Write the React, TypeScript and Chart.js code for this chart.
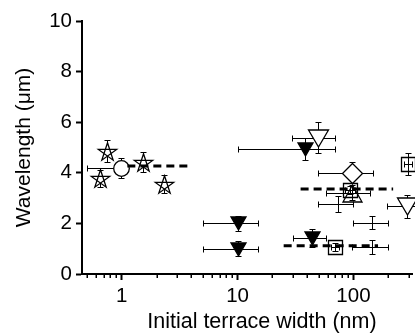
import React, { useEffect, useRef } from 'react';
import { Chart, registerables } from 'chart.js';

Chart.register(...registerables);

const FONT = "'Liberation Sans', Arial, Helvetica, sans-serif";

// Axis ticks
const xMajorTicks = [1, 10, 100];
const xMinorTicks = [0.5, 0.6, 0.7, 0.8, 0.9, 2, 3, 4, 5, 6, 7, 8, 9, 20, 30, 40, 50, 60, 70, 80, 90, 200, 300];
const yTickStep = 2;

// Open stars
const starX = [0.75, 0.65, 1.53, 2.3];
const starY = [4.86, 3.78, 4.44, 3.55];
const starYErr = [0.45, 0.35, 0.4, 0.35];

// Open circle
const circleX = [0.99];
const circleY = [4.2];
const circleXLo = [0.5];
const circleXHi = [1.1];
const circleYErr = [0.4];

// Filled down triangles
const fTriX = [10, 10, 44, 38];
const fTriY = [2.0, 1.0, 1.42, 4.95];
const fTriXLo = [5, 5, 30, 10];
const fTriXHi = [15, 15, 58, 69];
const fTriYErr = [0.3, 0.3, 0.35, 0.43];

// Open down triangles
const oTriX = [49.5, 292];
const oTriY = [5.39, 2.67];
const oTriXLo = [29.5, 195];
const oTriXHi = [69, 450];
const oTriYErr = [0.6, 0.45];

// Open up triangle
const upTriX = [98];
const upTriY = [3.22];
const upTriXLo = [58];
const upTriXHi = [140];
const upTriYErr = [0.3];

// Open diamond
const diaX = [98];
const diaY = [4.01];
const diaXLo = [49.5];
const diaXHi = [148];
const diaYErr = [0.4];

// Open squares
const sqX = [94, 69, 296];
const sqY = [3.32, 1.06, 4.35];
const sqXLo = [85, 64, 273];
const sqXHi = [104, 74.5, 321];
const sqYErr = [0.15, 0.16, 0.42];

// Error-bar-only points (crosses)
const crossX = [74, 146, 146];
const crossY = [2.77, 2.03, 1.06];
const crossXLo = [49.5, 99, 98];
const crossXHi = [100, 199, 199];
const crossYErr = [0.3, 0.26, 0.27];

// Dashed mean lines
const dash1X = [1.12, 3.8];
const dash1Y = [4.27, 4.27];
const dash2X = [35, 220];
const dash2Y = [3.36, 3.36];
const dash3X = [25, 163];
const dash3Y = [1.12, 1.12];

function drawShape(g: CanvasRenderingContext2D, kind: string, cx: number, cy: number) {
  g.save();
  g.lineWidth = 1.3;
  g.strokeStyle = '#000';
  g.lineJoin = 'miter';
  g.beginPath();
  let fill: string | null = '#fff';
  if (kind === 'star') {
    const R = 9.6;
    const c0 = cy + 0.9;
    for (let k = 0; k < 5; k++) {
      const idx = (k * 2) % 5;
      const a = -Math.PI / 2 + idx * 2 * Math.PI / 5;
      const px = cx + R * Math.cos(a), py = c0 + R * Math.sin(a);
      if (k === 0) g.moveTo(px, py); else g.lineTo(px, py);
    }
    g.closePath();
  } else if (kind === 'circle') {
    g.arc(cx, cy, 7.8, 0, Math.PI * 2);
  } else if (kind === 'ftri') {
    g.moveTo(cx - 7.5, cy - 6.5);
    g.lineTo(cx + 7.5, cy - 6.5);
    g.lineTo(cx, cy + 6.5);
    g.closePath();
    fill = '#000';
  } else if (kind === 'otri') {
    g.moveTo(cx - 10, cy - 8.5);
    g.lineTo(cx + 10, cy - 8.5);
    g.lineTo(cx, cy + 8.5);
    g.closePath();
  } else if (kind === 'utri') {
    g.moveTo(cx - 9.5, cy + 8.5);
    g.lineTo(cx + 9.5, cy + 8.5);
    g.lineTo(cx, cy - 8.5);
    g.closePath();
    fill = null;
  } else if (kind === 'diamond') {
    g.moveTo(cx, cy - 10);
    g.lineTo(cx + 10, cy);
    g.lineTo(cx, cy + 10);
    g.lineTo(cx - 10, cy);
    g.closePath();
  } else if (kind === 'square') {
    g.rect(cx - 7, cy - 7, 14, 14);
    fill = null;
  }
  if (fill) {
    g.fillStyle = fill;
    g.fill();
  }
  g.stroke();
  g.restore();
}

function pts(xs: number[], ys: number[]) {
  return xs.map((x, i) => ({ x, y: ys[i] }));
}

function errs(xLo: number[] | null, xHi: number[] | null, yErr: number[]) {
  return yErr.map((e, i) => ({ xLo: xLo ? xLo[i] : null, xHi: xHi ? xHi[i] : null, yErr: e }));
}

// Draws error bars, then the markers at the elements' positions (dashed lines drawn on top by the datasets)
const markerPlugin = {
  id: 'errorBarsAndMarkers',
  beforeDatasetsDraw(chart: any) {
    const { ctx } = chart;
    const x = chart.scales.x, y = chart.scales.y;
    ctx.save();
    ctx.strokeStyle = '#000';
    ctx.lineWidth = 1;
    const cap = 3;
    chart.data.datasets.forEach((ds: any) => {
      if (!ds.errors) return;
      ds.data.forEach((p: any, i: number) => {
        const e = ds.errors[i];
        const px = Math.round(x.getPixelForValue(p.x)) + 0.5;
        const py = Math.round(y.getPixelForValue(p.y)) + 0.5;
        ctx.beginPath();
        if (e.xLo != null && e.xHi != null) {
          const l = Math.round(x.getPixelForValue(e.xLo)) + 0.5, r = Math.round(x.getPixelForValue(e.xHi)) + 0.5;
          ctx.moveTo(l, py); ctx.lineTo(r, py);
          ctx.moveTo(l, py - cap); ctx.lineTo(l, py + cap);
          ctx.moveTo(r, py - cap); ctx.lineTo(r, py + cap);
        }
        if (e.yErr) {
          const t = Math.round(y.getPixelForValue(p.y + e.yErr)) + 0.5, b = Math.round(y.getPixelForValue(p.y - e.yErr)) + 0.5;
          ctx.moveTo(px, t); ctx.lineTo(px, b);
          ctx.moveTo(px - cap, t); ctx.lineTo(px + cap, t);
          ctx.moveTo(px - cap, b); ctx.lineTo(px + cap, b);
        }
        ctx.stroke();
      });
    });
    ctx.restore();
    chart.data.datasets.forEach((ds: any, di: number) => {
      if (!ds.marker) return;
      const meta = chart.getDatasetMeta(di);
      meta.data.forEach((el: any) => {
        drawShape(ctx, ds.marker, Math.round(el.x) + 0.5, Math.round(el.y) + 0.5);
      });
    });
  },
  afterDraw(chart: any) {
    const { ctx, chartArea } = chart;
    const x = chart.scales.x;
    ctx.save();
    ctx.strokeStyle = '#000';
    ctx.lineWidth = 1.5;
    ctx.beginPath();
    xMinorTicks.forEach((v) => {
      const px = Math.round(x.getPixelForValue(v)) + 0.25;
      ctx.moveTo(px, chartArea.bottom);
      ctx.lineTo(px, chartArea.bottom + 4);
    });
    ctx.stroke();
    ctx.restore();
  },
};

export default function App() {
  const ref = useRef<HTMLCanvasElement>(null);
  useEffect(() => {
    if (!ref.current) return;
    const dashed = (xs: number[], ys: number[]) => ({
      type: 'line' as const,
      data: pts(xs, ys),
      borderColor: '#000',
      borderWidth: 3,
      borderDash: [8, 5],
      pointRadius: 0,
      fill: false,
      clip: false as any,
    });
    const scatter = (xs: number[], ys: number[], kind: string | null, e: any[]) => ({
      type: 'scatter' as const,
      data: pts(xs, ys),
      errors: e,
      marker: kind,
      pointRadius: 0,
      pointHitRadius: 8,
      backgroundColor: '#fff',
      borderColor: '#000',
      clip: false as any,
    });
    const chart = new Chart(ref.current, {
      type: 'scatter',
      data: {
        datasets: [
          dashed(dash1X, dash1Y),
          dashed(dash2X, dash2Y),
          dashed(dash3X, dash3Y),
          scatter(sqX, sqY, 'square', errs(sqXLo, sqXHi, sqYErr)),
          scatter(upTriX, upTriY, 'utri', errs(upTriXLo, upTriXHi, upTriYErr)),
          scatter(diaX, diaY, 'diamond', errs(diaXLo, diaXHi, diaYErr)),
          scatter(fTriX, fTriY, 'ftri', errs(fTriXLo, fTriXHi, fTriYErr)),
          scatter(oTriX, oTriY, 'otri', errs(oTriXLo, oTriXHi, oTriYErr)),
          scatter(starX, starY, 'star', errs(null, null, starYErr)),
          scatter(circleX, circleY, 'circle', errs(circleXLo, circleXHi, circleYErr)),
          scatter(crossX, crossY, null, errs(crossXLo, crossXHi, crossYErr)),
        ] as any,
      },
      options: {
        animation: false,
        responsive: false,
        maintainAspectRatio: false,
        events: [],
        layout: { padding: { top: 21, right: 3, left: 0, bottom: 0 } },
        plugins: { legend: { display: false }, tooltip: { enabled: false } },
        scales: {
          x: {
            type: 'logarithmic',
            min: 0.455,
            max: 320,
            afterFit: (s: any) => { s.height = 59; s.paddingRight = 0; s.paddingLeft = 0; },
            afterBuildTicks: (s: any) => { s.ticks = xMajorTicks.map((v) => ({ value: v })); },
            grid: { display: true, drawOnChartArea: false, drawTicks: true, tickLength: 6, tickWidth: 2, tickColor: '#000' },
            border: { display: true, color: '#000', width: 2 },
            ticks: {
              callback: (v: any) => String(v),
              color: '#000',
              font: { family: FONT, size: 20.5 },
              padding: 4,
              maxRotation: 0,
              autoSkip: false,
            },
            title: {
              display: true,
              text: '     Initial terrace width (nm)',
              color: '#000',
              font: { family: FONT, size: 21.5, lineHeight: 1 },
              padding: { top: 0, bottom: 0 },
            },
          },
          y: {
            type: 'linear',
            min: 0,
            max: 10,
            afterFit: (s: any) => { s.width = 82; },
            grid: { display: true, drawOnChartArea: false, drawTicks: true, tickLength: 6, tickWidth: 2, tickColor: '#000' },
            border: { display: true, color: '#000', width: 2 },
            ticks: {
              stepSize: yTickStep,
              color: '#000',
              font: { family: FONT, size: 20.5 },
              padding: 4,
            },
            title: {
              display: true,
              text: 'Wavelength (μm)',
              color: '#000',
              font: { family: FONT, size: 21 },
              padding: { top: 12, bottom: 0 },
            },
          },
        },
      } as any,
      plugins: [markerPlugin],
    });
    return () => chart.destroy();
  }, []);
  return (
    <div style={{ position: 'fixed', left: 0, top: 0, width: 415, height: 333, background: '#fff' }}>
      <canvas ref={ref} width={415} height={333} style={{ display: 'block' }} />
    </div>
  );
}
